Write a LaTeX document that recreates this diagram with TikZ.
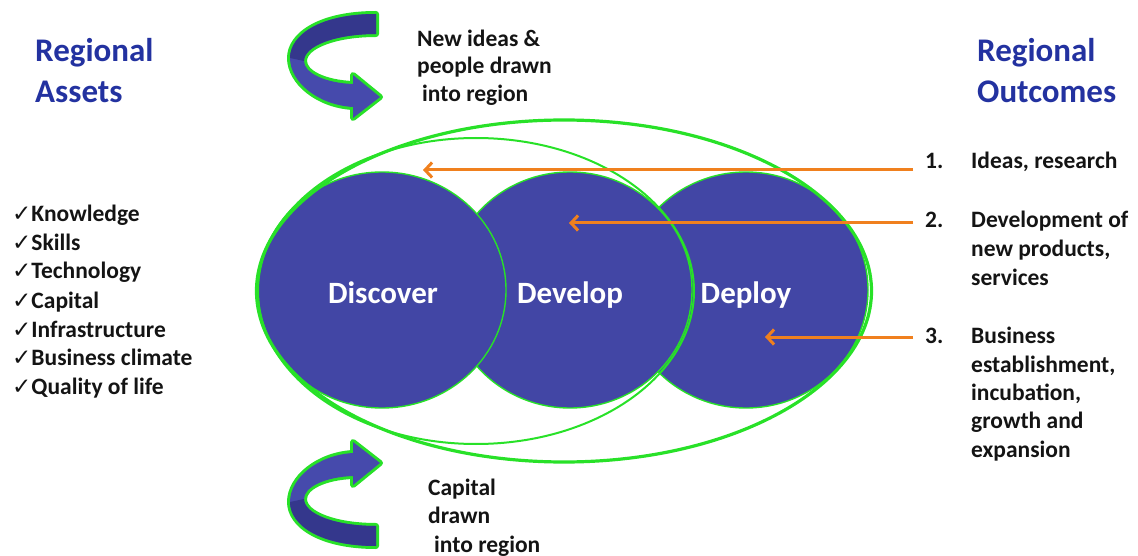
\documentclass[tikz,border=0pt]{standalone}
\usepackage{fontspec}
\setmainfont{Carlito}
\newfontfamily\symfont{DejaVu Sans}
\usetikzlibrary{arrows.meta,shapes.geometric}
\definecolor{circblue}{RGB}{66,70,165}
\definecolor{ribdark}{RGB}{52,55,140}
\definecolor{riblight}{RGB}{70,74,172}
\definecolor{glow}{RGB}{40,225,40}
\definecolor{titleblue}{RGB}{35,50,160}
\definecolor{orangeline}{RGB}{240,128,30}
\definecolor{ink}{RGB}{20,20,20}
\newcommand\myribbonshape{%
  \path[preaction={draw=glow,line width=6pt,line join=round}, fill=riblight]
    (376,14) .. controls (320,14) and (290,35) .. (290,58)
    .. controls (290,82) and (318,105) .. (353,107)
    -- (353,118) -- (380,97) -- (353,75) -- (353,84)
    .. controls (325,83) and (304,73) .. (304,61)
    .. controls (304,46) and (335,34) .. (376,34) -- cycle;
  \fill[ribdark]
    (376,14) .. controls (320,14) and (290,35) .. (290,58)
    -- (304,61) .. controls (304,46) and (335,34) .. (376,34) -- cycle;
}
\newcommand\mycheck{{\symfont\mdseries\fontsize{23}{23}\selectfont ✓}}
\begin{document}
\begin{tikzpicture}[x=1pt,y=-1pt,
  stage/.style={ellipse, draw=glow, line width=1.4pt, fill=circblue, inner sep=0pt},
  stagelabel/.style={text=white, font=\fontsize{31}{31}\selectfont\bfseries, anchor=base, inner sep=0pt},
  ring/.style={ellipse, draw=glow, inner sep=0pt},
  title/.style={text=titleblue, font=\fontsize{33}{33}\selectfont\bfseries, anchor=base west, inner sep=0pt},
  txt/.style={text=ink, font=\fontsize{23.5}{23.5}\selectfont\bfseries, anchor=base west, inner sep=0pt},
  feed/.style={draw=orangeline, line width=3pt, -{Straight Barb[length=7pt,width=15pt]}},
]
\useasboundingbox (0,0) rectangle (1138,556);

% titles
\node[title] (ra1) at (35,62) {Regional};
\node[title] (ra2) at (35,103) {Assets};
\node[title] (ro1) at (977,62) {Regional};
\node[title] (ro2) at (977,103) {Outcomes};

% assets list
\node[txt] (a1) at (12,222) {\mycheck Knowledge};
\node[txt] (a2) at (12,251) {\mycheck Skills};
\node[txt] (a3) at (12,279) {\mycheck Technology};
\node[txt] (a4) at (12,308) {\mycheck Capital};
\node[txt] (a5) at (12,337) {\mycheck Infrastructure};
\node[txt] (a6) at (12,365) {\mycheck Business climate};
\node[txt] (a7) at (12,394) {\mycheck Quality of life};

% ribbon arrows
\begin{scope}
  \myribbonshape
\end{scope}
\begin{scope}[yshift=-560pt, yscale=-1]
  \myribbonshape
\end{scope}

% ribbon texts
\node[txt] (n1) at (417,47) {New ideas \&};
\node[txt] (n2) at (417,74) {people drawn};
\node[txt] (n3) at (422,102) {into region};
\node[txt] (c1) at (428,495) {Capital};
\node[txt] (c2) at (428,523) {drawn};
\node[txt] (c3) at (434,552) {into region};

% stages
\node[stage, minimum width=244pt, minimum height=236pt] (deploy) at (746,290) {};
\node[stage, minimum width=244pt, minimum height=236pt] (develop) at (570,290) {};
\node[stage, minimum width=248pt, minimum height=236pt] (discover) at (382,290) {};
\node[stagelabel] (ldis) at (383,303) {Discover};
\node[stagelabel] (ldev) at (570,303) {Develop};
\node[stagelabel] (ldep) at (746,303) {Deploy};

% rings
\node[ring, line width=3.2pt, minimum width=615pt, minimum height=342pt] (outerring) at (564,291) {};
\node[ring, line width=2pt, minimum width=436pt, minimum height=306pt] (innerring) at (476,291) {};

% outcomes
\node[txt] (o1) at (925,169) {1.};
\node[txt] (o1t) at (971,169) {Ideas, research};
\node[txt] (o2) at (925,228) {2.};
\node[txt] (o2t) at (971,228) {Development of};
\node[txt] (o2b) at (971,257) {new products,};
\node[txt] (o2c) at (971,285) {services};
\node[txt] (o3) at (925,343) {3.};
\node[txt] (o3t) at (971,343) {Business};
\node[txt] (o3b) at (971,372) {establishment,};
\node[txt] (o3c) at (971,400) {incubation,};
\node[txt] (o3d) at (971,428) {growth and};
\node[txt] (o3e) at (971,457) {expansion};

% orange feed arrows
\coordinate (s1) at (913,170);
\coordinate (t1) at (423,170);
\coordinate (s2) at (913,223);
\coordinate (t2) at (569,223);
\coordinate (s3) at (913,337);
\coordinate (t3) at (765,337);
\draw[feed] (s1) -- (t1);
\draw[feed] (s2) -- (t2);
\draw[feed] (s3) -- (t3);
\end{tikzpicture}
\end{document}
